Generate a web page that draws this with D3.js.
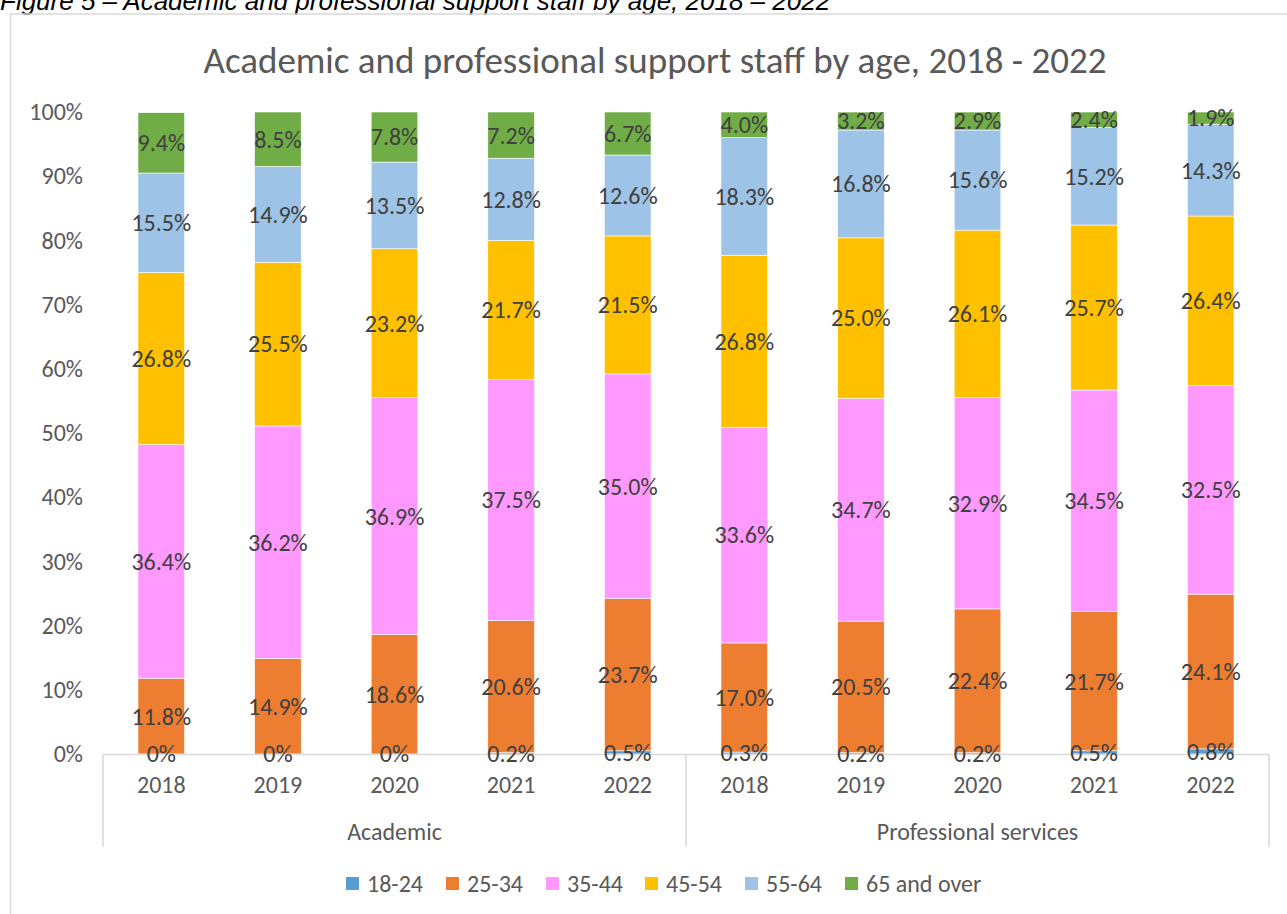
<!DOCTYPE html>
<html><head><meta charset="utf-8">
<script src="https://cdn.jsdelivr.net/npm/d3@7"></script>
<style>
body{margin:0;background:#fff;}
svg{display:block;}
text{font-family:Carlito,Lato,"Open Sans",sans-serif;}
</style></head>
<body>
<svg id="chart" width="1287" height="914"></svg>
<script>
const groups = ["Academic", "Professional services"];
const years = ["2018", "2019", "2020", "2021", "2022"];
const ageBands = ["18-24", "25-34", "35-44", "45-54", "55-64", "65 and over"];
const colors = ["#5B9BD5", "#ED7D31", "#FF99FF", "#FFC000", "#9DC3E6", "#70AD47"];
// values in percent, per category (Academic 2018..2022, Professional services 2018..2022)
const v1824 = [0, 0, 0, 0.2, 0.5, 0.3, 0.2, 0.2, 0.5, 0.8];
const v2534 = [11.8, 14.9, 18.6, 20.6, 23.7, 17.0, 20.5, 22.4, 21.7, 24.1];
const v3544 = [36.4, 36.2, 36.9, 37.5, 35.0, 33.6, 34.7, 32.9, 34.5, 32.5];
const v4554 = [26.8, 25.5, 23.2, 21.7, 21.5, 26.8, 25.0, 26.1, 25.7, 26.4];
const v5564 = [15.5, 14.9, 13.5, 12.8, 12.6, 18.3, 16.8, 15.6, 15.2, 14.3];
const v65 = [9.4, 8.5, 7.8, 7.2, 6.7, 4.0, 3.2, 2.9, 2.4, 1.9];
const yTicks = [0, 0.1, 0.2, 0.3, 0.4, 0.5, 0.6, 0.7, 0.8, 0.9, 1.0];
const chartTitle = "Academic and professional support staff by age, 2018 - 2022";
const caption = "Figure 5 – Academic and professional support staff by age, 2018 – 2022";

const series = [v1824, v2534, v3544, v4554, v5564, v65];
const cats = [];
groups.forEach((g, gi) => years.forEach((yr, yi) => cats.push({id: g + "|" + yr, group: g, year: yr, idx: gi * years.length + yi})));
const rows = cats.map(c => {
  const r = {id: c.id};
  ageBands.forEach((a, ai) => r[a] = series[ai][c.idx] / 100);
  return r;
});

const svg = d3.select("#chart");
const pLeft = 103, pRight = 1269, pTop = 112, pBottom = 754;
const fs = 24;

const x = d3.scaleBand().domain(cats.map(c => c.id)).range([pLeft, pRight]).paddingInner(0.6).paddingOuter(0.3);
const y = d3.scaleLinear().domain([0, 1]).range([pBottom, pTop]);
const color = d3.scaleOrdinal().domain(ageBands).range(colors);

// caption (partly cut off at the top, as in the source)
svg.append("text").attr("x", 0).attr("y", 10).attr("font-size", 26).attr("font-style", "italic")
  .style("font-family", "'Liberation Sans', Arial, sans-serif").attr("fill", "#000").text(caption);

// chart frame
svg.append("rect").attr("x", 10.5).attr("y", 14).attr("width", 1300).attr("height", 920)
  .attr("fill", "none").attr("stroke", "#d9d9d9").attr("stroke-width", 1.5);

// title
svg.append("text").attr("x", 655).attr("y", 73).attr("text-anchor", "middle")
  .attr("font-size", 37).attr("fill", "#595959").text(chartTitle);

// y axis
const yAxis = d3.axisLeft(y).tickValues(yTicks).tickFormat(d3.format(".0%")).tickSize(0).tickPadding(0);
const yg = svg.append("g").attr("transform", "translate(83,0)").call(yAxis);
yg.select(".domain").remove();
yg.selectAll("text").attr("font-size", fs).attr("fill", "#595959").style("font-family", "Carlito,Lato,'Open Sans',sans-serif");

// bars
svg.append("clipPath").attr("id", "plotclip").append("rect")
  .attr("x", pLeft).attr("y", pTop).attr("width", pRight - pLeft).attr("height", pBottom - pTop);
const stack = d3.stack().keys(ageBands)(rows);
const barsG = svg.append("g").attr("clip-path", "url(#plotclip)");
barsG.selectAll("g.series").data(stack).join("g").attr("class", "series")
  .attr("fill", d => color(d.key))
  .selectAll("rect").data(d => d).join("rect")
  .attr("x", d => x(d.data.id))
  .attr("width", x.bandwidth())
  .attr("y", d => y(Math.min(d[1], 1)))
  .attr("height", d => Math.max(0, y(d[0]) - y(Math.min(d[1], 1))))
  .attr("stroke", "#fff").attr("stroke-width", 0.6);

// x axis line and group separators
const xAxis = d3.axisBottom(x).tickSize(0).tickPadding(0).tickFormat(id => id.split("|")[1]);
const xg = svg.append("g").attr("transform", `translate(0,${pBottom})`).call(xAxis);
xg.select(".domain").attr("stroke", "#d9d9d9").attr("stroke-width", 1.5);
xg.selectAll("text").attr("font-size", fs).attr("fill", "#595959").attr("dy", null).attr("y", 39)
  .style("font-family", "Carlito,Lato,'Open Sans',sans-serif");

const groupScale = d3.scaleBand().domain(groups).range([pLeft, pRight]);
const sepXs = [pLeft, pLeft + groupScale.bandwidth(), pRight];
svg.append("g").selectAll("line").data(sepXs).join("line")
  .attr("x1", d => d).attr("x2", d => d).attr("y1", pBottom).attr("y2", 847)
  .attr("stroke", "#d9d9d9").attr("stroke-width", 1.5);
svg.append("g").selectAll("text").data(groups).join("text")
  .attr("x", d => groupScale(d) + groupScale.bandwidth() / 2).attr("y", 840)
  .attr("text-anchor", "middle").attr("font-size", fs).attr("fill", "#595959").text(d => d);

// data labels
const fmt = v => v === 0 ? "0%" : v.toFixed(1) + "%";
const labG = svg.append("g");
stack.forEach((s, si) => {
  labG.selectAll(null).data(s).join("text")
    .attr("x", d => x(d.data.id) + x.bandwidth() / 2)
    .attr("y", d => (y(d[0]) + y(Math.min(d[1], 1))) / 2)
    .attr("dy", "0.35em")
    .attr("text-anchor", "middle").attr("font-size", fs).attr("fill", "#404040")
    .text((d, i) => fmt(series[si][i]));
});

// legend
const legendStarts = [346, 446, 546, 645, 745, 845];
const lg = svg.append("g");
ageBands.forEach((a, i) => {
  const g = lg.append("g").attr("transform", `translate(${legendStarts[i]},877)`);
  g.append("rect").attr("width", 13).attr("height", 13).attr("fill", color(a));
  g.append("text").attr("x", 21).attr("y", 7).attr("dy", "0.35em").attr("font-size", fs).attr("fill", "#595959").text(a);
});
</script>
</body></html>
